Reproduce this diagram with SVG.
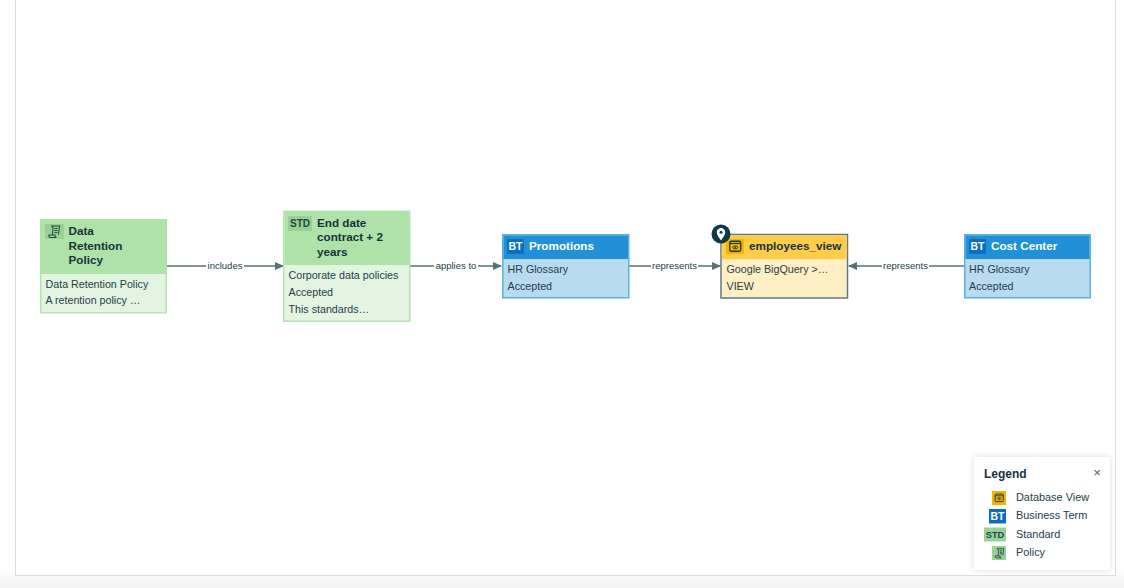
<svg xmlns="http://www.w3.org/2000/svg" width="1124" height="588" viewBox="0 0 1124 588">
<defs>
<linearGradient id="fade" x1="0" y1="0" x2="0" y2="1"><stop offset="0" stop-color="#ffffff"/><stop offset="1" stop-color="#f2f2f2"/></linearGradient>
<filter id="sh" x="-20%" y="-20%" width="140%" height="140%"><feDropShadow dx="0" dy="0" stdDeviation="3" flood-color="#000" flood-opacity="0.13"/></filter>
<marker id="arr" markerWidth="9" markerHeight="8" refX="8" refY="4" orient="auto" markerUnits="userSpaceOnUse"><path d="M0 0L9 4L0 8Z" fill="#587078"/></marker>
<g id="scroll"><path d="M3 1.500H11.500L10.500 10M3 1.500C4.500 1.500 5 3 5 4L4.500 10.500M4.500 10.500H0.800V11.500C0.800 12.500 1.500 13 2.500 13H8.500C7.500 13 7 12 7 10.500H4.500M6.500 4H9.500M6.500 6H9.500M6.500 8H9.500" fill="none" stroke="#1f4c4a" stroke-width="1.100"/></g>
<g id="viewicon"><rect x="0.750" y="0.750" width="11" height="10" rx="1.500" fill="none" stroke="#123746" stroke-width="1.300"/><path d="M1 3H11.500" stroke="#123746" stroke-width="1.100"/><ellipse cx="6.250" cy="6.800" rx="2.600" ry="1.400" fill="none" stroke="#123746" stroke-width="0.900"/><circle cx="6.250" cy="6.800" r="0.800" fill="#123746"/></g>
</defs>
<style>
text{font-family:"Liberation Sans",Arial,sans-serif;fill:#17323f;}
.t{font-size:11.700px;font-weight:700;}
.w{fill:#fff;}
.b{font-size:10.700px;fill:#243e4a;}
.e{font-size:9.500px;fill:#243e4a;text-anchor:middle;}
.c{stroke:#587078;stroke-width:1.500;fill:none;marker-end:url(#arr);}
.lb{fill:#fff;}
.l{font-size:10.900px;fill:#243e4a;}
.bt{font-size:10.500px;font-weight:700;fill:#fff;text-anchor:middle;}
.st{font-size:10px;font-weight:700;fill:#1f4450;text-anchor:middle;}
.gh{fill:#aee2a8;}.gb{fill:#e3f4e1;stroke:#b5e5b0;stroke-width:1.500;}
.bh{fill:#2091d6;}.bb{fill:#b8dbef;stroke:#5cb0e2;stroke-width:1.500;}
</style>
<rect width="1124" height="588" fill="#fff"/>
<rect x="0" y="568" width="1124" height="20" fill="url(#fade)"/>
<rect x="15.500" y="-2" width="1100" height="577.500" fill="#fff" stroke="#dcdcdc"/>

<g id="connectors">
<path class="c" d="M167 266H283"/>
<path class="c" d="M410 266H501"/>
<path class="c" d="M629 266H720"/>
<path class="c" d="M964 266H849"/>
<rect class="lb" x="206" y="260" width="38" height="12"/><text class="e" x="225" y="269">includes</text>
<rect class="lb" x="434" y="260" width="44" height="12"/><text class="e" x="456" y="269">applies to</text>
<rect class="lb" x="651" y="260" width="47" height="12"/><text class="e" x="674.500" y="269">represents</text>
<rect class="lb" x="882" y="260" width="47" height="12"/><text class="e" x="905.500" y="269">represents</text>
</g>

<g id="node-policy">
<rect class="gb" x="40.750" y="219.750" width="125.500" height="93"/>
<rect class="gh" x="40" y="219" width="127" height="55"/>
<rect x="45" y="224" width="19" height="15" fill="#97d193"/>
<use href="#scroll" x="48" y="224.500"/>
<text class="t" x="68.500" y="235">Data</text>
<text class="t" x="68.500" y="250">Retention</text>
<text class="t" x="68.500" y="264">Policy</text>
<text class="b" x="45.500" y="288">Data Retention Policy</text>
<text class="b" x="45.500" y="304">A retention policy …</text>
</g>

<g id="node-standard">
<rect class="gb" x="283.750" y="211.250" width="126" height="110"/>
<rect class="gh" x="284.500" y="212" width="124.500" height="53"/>
<rect x="288" y="216" width="24" height="15" fill="#97d193"/>
<text class="st" x="300" y="227">STD</text>
<text class="t" x="317" y="227">End date</text>
<text class="t" x="317" y="241">contract + 2</text>
<text class="t" x="317" y="256">years</text>
<text class="b" x="288.500" y="279">Corporate data policies</text>
<text class="b" x="288.500" y="296">Accepted</text>
<text class="b" x="288.500" y="313">This standards…</text>
</g>

<g id="node-promotions">
<rect class="bb" x="502.750" y="234.750" width="126" height="63"/>
<rect class="bh" x="503.500" y="235.500" width="124.500" height="23.500"/>
<rect x="507" y="239" width="17" height="15" fill="#0a6fc2"/>
<text class="bt" x="515.500" y="250">BT</text>
<text class="t w" x="529" y="250">Promotions</text>
<text class="b" x="507.500" y="273">HR Glossary</text>
<text class="b" x="507.500" y="290">Accepted</text>
</g>

<g id="node-employees-view">
<rect x="721" y="234.500" width="126.500" height="63.500" fill="#ffefc4" stroke="#5e7b80" stroke-width="1.500"/>
<rect x="721.750" y="235.250" width="125" height="24" fill="#ffcd4a"/>
<rect x="726" y="239" width="18" height="15" fill="#f4b400"/>
<use href="#viewicon" x="729" y="240.500"/>
<text class="t" x="749" y="250">employees_view</text>
<text class="b" x="726.500" y="273">Google BigQuery &gt;…</text>
<text class="b" x="726.500" y="290">VIEW</text>
<circle cx="721" cy="234" r="9.500" fill="#123746"/>
<path d="M721 240.500C718.500 237 716.800 234.800 716.800 232.300A4.200 4.200 0 0 1 725.200 232.300C725.200 234.800 723.500 237 721 240.500Z" fill="#fff"/>
<circle cx="721" cy="232.300" r="1.500" fill="#123746"/>
</g>

<g id="node-cost-center">
<rect class="bb" x="964.750" y="234.750" width="125.500" height="63"/>
<rect class="bh" x="965.500" y="235.500" width="124" height="23.500"/>
<rect x="969" y="239" width="17" height="15" fill="#0a6fc2"/>
<text class="bt" x="977.500" y="250">BT</text>
<text class="t w" x="991" y="250">Cost Center</text>
<text class="b" x="969" y="273">HR Glossary</text>
<text class="b" x="969" y="290">Accepted</text>
</g>

<g id="legend">
<rect x="974" y="457" width="136" height="113" fill="#fff" filter="url(#sh)"/>
<text x="984" y="478" font-size="12" font-weight="700" style="fill:#17323f">Legend</text>
<text x="1097" y="477" font-size="13" text-anchor="middle" style="fill:#4a6470">×</text>
<rect x="992" y="491" width="14" height="14" fill="#f4b400"/>
<use href="#viewicon" transform="translate(994.500,493.500) scale(0.75)"/>
<text class="l" x="1016" y="501">Database View</text>
<rect x="989" y="509" width="17" height="14.500" fill="#0a6fc2"/>
<text class="bt" x="997.500" y="520">BT</text>
<text class="l" x="1016" y="519">Business Term</text>
<rect x="984" y="527.500" width="22" height="14" fill="#97d193"/>
<text class="st" x="995" y="538" style="font-size:9.200px">STD</text>
<text class="l" x="1016" y="538">Standard</text>
<rect x="992" y="546" width="14" height="14" fill="#97d193"/>
<use href="#scroll" transform="translate(994.500,547.500) scale(0.8)"/>
<text class="l" x="1016" y="556">Policy</text>
</g>
</svg>
